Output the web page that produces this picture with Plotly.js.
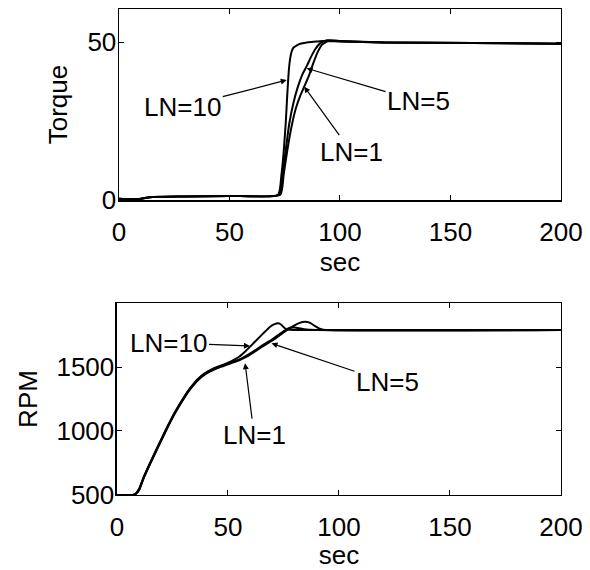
<!DOCTYPE html>
<html>
<head>
<meta charset="utf-8">
<script src="https://cdn.plot.ly/plotly-3.0.1.min.js"></script>
<style>html,body{margin:0;padding:0;background:#fff;}#chart{width:590px;height:570px;}</style>
</head>
<body>
<div id="chart"></div>
<script>
// ---- Torque (top panel) ----
const tqX10 = [0, 5, 10, 14, 30, 50, 72, 73.5, 74.5, 75.5, 76.2, 76.9, 77.5, 78.2, 79, 80.5, 82, 85, 88, 92, 100, 120, 160, 200];
const tqY10 = [0.4, 0.3, 0.4, 0.9, 1.1, 1.3, 1.7, 8, 15, 25, 34, 41.5, 45, 47.2, 48.3, 49, 49.5, 49.9, 50.1, 50.4, 50.2, 49.9, 49.7, 49.5];
const tqX5 = [0, 5, 10, 14, 30, 50, 72.5, 74, 75.5, 77, 79, 81, 83, 85, 87, 89, 91, 94, 100, 120, 160, 200];
const tqY5 = [0.4, 0.3, 0.4, 0.9, 1.1, 1.3, 1.7, 8, 16, 24, 31, 36, 39.8, 42.5, 45.5, 48, 49.6, 50.6, 50.3, 49.9, 49.7, 49.5];
const tqX1 = [0, 5, 10, 14, 30, 50, 73, 74.5, 76, 78, 80, 82, 84, 86, 88, 90, 92, 95, 100, 120, 160, 200];
const tqY1 = [0.4, 0.3, 0.4, 0.9, 1.1, 1.3, 1.7, 8, 15, 23, 29, 33, 36.2, 39.5, 43.5, 47, 49.3, 50.5, 50.4, 49.9, 49.7, 49.5];

// ---- RPM (bottom panel) ----
const rpmX10 = [0, 7, 8.5, 10, 12, 15, 18, 22, 26, 30, 32, 34, 36, 38, 40, 42, 44, 46, 48, 50, 52, 55, 58, 62, 66, 69, 71, 72.7, 74, 75.5, 77, 80, 200];
const rpmY10 = [500, 500, 512, 550, 640, 755, 865, 1010, 1145, 1260, 1313, 1358, 1398, 1431, 1456, 1476, 1492, 1506, 1519, 1533, 1550, 1580, 1625, 1695, 1765, 1815, 1835, 1841, 1830, 1805, 1792, 1789, 1789];
const rpmX5 = [0, 7, 8.5, 10, 12, 15, 18, 22, 26, 30, 32, 34, 36, 38, 40, 42, 44, 46, 48, 50, 52, 55, 58, 62, 66, 70, 73, 76, 78, 80, 83, 87, 200];
const rpmY5 = [500, 500, 510, 545, 635, 750, 860, 1005, 1140, 1255, 1308, 1353, 1393, 1426, 1451, 1471, 1487, 1501, 1513, 1526, 1539, 1558, 1585, 1628, 1675, 1717, 1754, 1790, 1806, 1809, 1800, 1791, 1789];
const rpmX1 = [0, 7, 8.5, 10, 12, 15, 18, 22, 26, 30, 32, 34, 36, 38, 40, 42, 44, 46, 48, 50, 52, 55, 58, 62, 66, 70, 73, 76, 79, 82, 84.7, 87, 89, 91, 93, 200];
const rpmY1 = [500, 500, 508, 540, 630, 745, 855, 1000, 1135, 1250, 1303, 1348, 1388, 1421, 1446, 1466, 1482, 1496, 1508, 1521, 1534, 1553, 1577, 1620, 1665, 1707, 1744, 1782, 1816, 1843, 1854, 1845, 1822, 1801, 1791, 1789];

const xTicks = [0, 50, 100, 150, 200];
const tqTicks = [0, 50];
const rpmTicks = [500, 1000, 1500];
const labels = ['LN=10', 'LN=5', 'LN=1'];

const FONT = 'Liberation Sans, Arial, sans-serif';
const line = {color: 'black', width: 2, shape: 'spline', smoothing: 0.5};

const traces = [
  {x: tqX10, y: tqY10, xaxis: 'x', yaxis: 'y', mode: 'lines', line: line, name: labels[0]},
  {x: tqX5, y: tqY5, xaxis: 'x', yaxis: 'y', mode: 'lines', line: line, name: labels[1]},
  {x: tqX1, y: tqY1, xaxis: 'x', yaxis: 'y', mode: 'lines', line: line, name: labels[2]},
  {x: rpmX10, y: rpmY10, xaxis: 'x2', yaxis: 'y2', mode: 'lines', line: line, name: labels[0]},
  {x: rpmX5, y: rpmY5, xaxis: 'x2', yaxis: 'y2', mode: 'lines', line: line, name: labels[1]},
  {x: rpmX1, y: rpmY1, xaxis: 'x2', yaxis: 'y2', mode: 'lines', line: line, name: labels[2]}
];

function axisBase() {
  return {
    showline: true, linecolor: 'black', linewidth: 1.5, mirror: 'ticks',
    ticks: 'inside', ticklen: 5, tickwidth: 1, tickcolor: 'black',
    showgrid: false, zeroline: false, fixedrange: true,
    tickfont: {family: FONT, size: 26, color: 'black'}
  };
}
const titleFont = {family: FONT, size: 26, color: 'black'};

const layout = {
  width: 590, height: 570,
  margin: {l: 0, r: 0, t: 0, b: 0},
  paper_bgcolor: 'white', plot_bgcolor: 'white',
  showlegend: false,
  font: {family: FONT, size: 26, color: 'black'},
  xaxis: Object.assign(axisBase(), {
    domain: [0.2017, 0.9508], anchor: 'y', range: [0, 200], tickmode: 'array', tickvals: xTicks,
    ticklabelstandoff: 8,
    title: {text: 'sec', font: titleFont, standoff: 5}
  }),
  yaxis: Object.assign(axisBase(), {
    domain: [0.6491, 0.9842], anchor: 'x', range: [0, 60.5], tickmode: 'array', tickvals: tqTicks,
    ticklabelstandoff: -4,
    title: {text: 'Torque', font: titleFont, standoff: 12}
  }),
  xaxis2: Object.assign(axisBase(), {
    domain: [0.1983, 0.9508], anchor: 'y2', range: [0, 200], tickmode: 'array', tickvals: xTicks,
    ticklabelstandoff: 8,
    title: {text: 'sec', font: titleFont, standoff: 8}
  }),
  yaxis2: Object.assign(axisBase(), {
    domain: [0.1316, 0.4684], anchor: 'x2', range: [500, 2000], tickmode: 'array', tickvals: rpmTicks,
    ticklabelstandoff: -4,
    title: {text: 'RPM', font: titleFont, standoff: 11}
  }),
  annotations: [
    {xref: 'x', yref: 'y', x: 75.9, y: 38.0, ax: -104, ay: 27, text: labels[0]},
    {xref: 'x', yref: 'y', x: 84.9, y: 41.7, ax: 112, ay: 33, text: labels[1]},
    {xref: 'x', yref: 'y', x: 83.8, y: 35.9, ax: 47, ay: 65, text: labels[2]},
    {xref: 'x2', yref: 'y2', x: 59.9, y: 1665, ax: -81, ay: -3, text: labels[0]},
    {xref: 'x2', yref: 'y2', x: 69.6, y: 1685, ax: 116, ay: 39, text: labels[1]},
    {xref: 'x2', yref: 'y2', x: 57.7, y: 1530, ax: 9, ay: 72, text: labels[2]}
  ].map(a => Object.assign({
    showarrow: true, arrowhead: 2, arrowsize: 1, arrowwidth: 1.2, arrowcolor: 'black',
    font: {family: FONT, size: 26, color: 'black'}
  }, a))
};

Plotly.newPlot('chart', traces, layout, {displayModeBar: false, staticPlot: true});
</script>
</body>
</html>
